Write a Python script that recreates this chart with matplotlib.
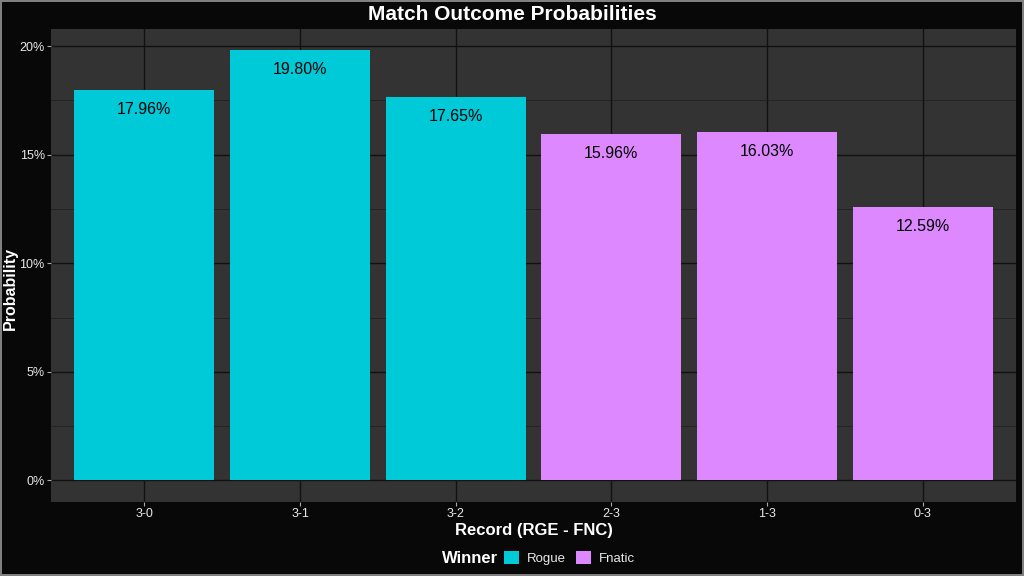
import matplotlib.pyplot as plt
from matplotlib.patches import Patch
from matplotlib.ticker import MultipleLocator, FuncFormatter

plt.rcParams['font.family'] = ['Liberation Sans', 'DejaVu Sans']

records = ['3-0', '3-1', '3-2', '2-3', '1-3', '0-3']
probs = [17.96, 19.80, 17.65, 15.96, 16.03, 12.59]
winners = ['Rogue', 'Rogue', 'Rogue', 'Fnatic', 'Fnatic', 'Fnatic']
colours = {'Rogue': '#00C9D8', 'Fnatic': '#DD88FF'}

fig = plt.figure(figsize=(10.24, 5.76), dpi=100, facecolor='#080808',
                 edgecolor='#808080', linewidth=1.5)
ax = fig.add_axes([0.0498, 0.1285, 0.9424, 0.8212])
ax.set_facecolor('#333333')

x = list(range(1, len(records) + 1))
bars = ax.bar(x, probs, width=0.9, color=[colours[w] for w in winners], zorder=3)
for xi, p in zip(x, probs):
    ax.annotate(f'{p:.2f}%', (xi, p), xytext=(0, -14), textcoords='offset points',
                ha='center', va='center', fontsize=11.5, color='black', zorder=4)

ax.set_xlim(0.4, 6.6)
ax.set_ylim(-0.99, 20.79)
ax.set_xticks(x)
ax.set_xticklabels(records)
ax.yaxis.set_major_locator(MultipleLocator(5))
ax.yaxis.set_minor_locator(MultipleLocator(2.5))
ax.yaxis.set_major_formatter(FuncFormatter(lambda v, _: f'{v:.0f}%'))
ax.grid(True, which='major', color='#111111', linewidth=1.0, zorder=0)
ax.grid(True, which='minor', axis='y', color='#1e1e1e', linewidth=0.5, zorder=0)
for s in ax.spines.values():
    s.set_visible(False)
ax.tick_params(which='major', colors='#aaaaaa', labelcolor='#e8e8e8', labelsize=9,
               length=3, width=0.8, pad=1.5)
ax.tick_params(which='minor', length=0)

ax.set_xlabel('Record (RGE - FNC)', color='white', fontsize=12, fontweight='bold', labelpad=2)
fig.text(0.0105, 0.5, 'Probability', color='white', fontsize=11.5, fontweight='bold',
         rotation=90, ha='center', va='center')
fig.text(0.5, 0.974, 'Match Outcome Probabilities', color='white', fontsize=15,
         fontweight='bold', ha='center', va='center')

handles = [Patch(facecolor=colours[w], edgecolor='none') for w in ['Rogue', 'Fnatic']]
fig.text(0.432, 0.031, 'Winner', color='white', fontsize=12, fontweight='bold',
         ha='left', va='center')
fig.legend(handles, ['Rogue', 'Fnatic'], loc='center left', bbox_to_anchor=(0.481, 0.031),
           ncol=2, frameon=False, labelcolor='#e8e8e8', fontsize=9.5,
           handlelength=1.1, handleheight=1.1, handletextpad=0.6, columnspacing=0.8)

fig.savefig('out.png', dpi=100, facecolor=fig.get_facecolor(), edgecolor=fig.get_edgecolor())
